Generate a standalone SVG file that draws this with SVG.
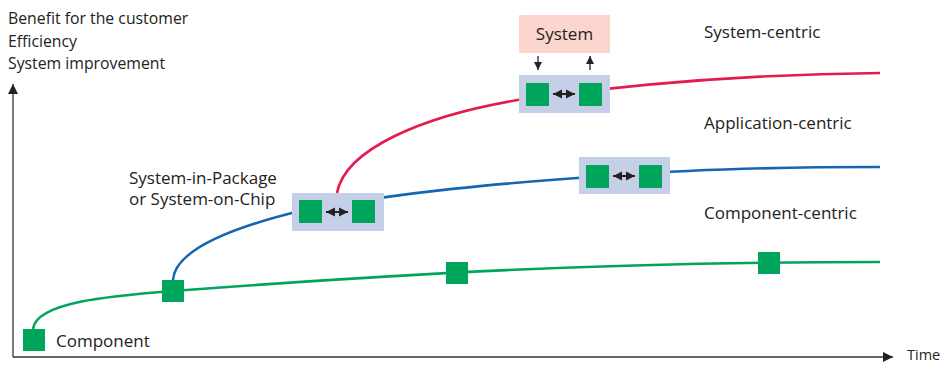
<svg xmlns="http://www.w3.org/2000/svg" width="944" height="365" viewBox="0 0 944 365">
  <style>
    text { font-family: "Open Sans", "Noto Sans", sans-serif; font-size: 15.8px; fill: #222; }
    .lbl { font-size: 17px; }
    .sq { fill: #00a55c; }
    .box { fill: #c5d0e8; }
    .axis { stroke: #333; stroke-width: 1.3; fill: none; }
    .curve { fill: none; stroke-width: 2.6; }
    .g { stroke: #00a55c; }
    .b { stroke: #1565b0; }
    .r { stroke: #e31b4f; }
    .dbl { stroke: #222; stroke-width: 2; fill: none; }
    .sm { stroke: #222; stroke-width: 1.3; fill: none; }
  </style>
  <defs>
    <marker id="axhead" viewBox="0 0 10 10" refX="10" refY="5" markerWidth="10" markerHeight="10" markerUnits="userSpaceOnUse" orient="auto">
      <path d="M0,0 L10,5 L0,10 z" fill="#222"/>
    </marker>
    <marker id="dh" viewBox="0 0 10 10" refX="10" refY="5" markerWidth="9" markerHeight="11" markerUnits="userSpaceOnUse" orient="auto-start-reverse">
      <path d="M0,0 L10,5 L0,10 z" fill="#222"/>
    </marker>
    <marker id="sh" viewBox="0 0 10 10" refX="10" refY="5" markerWidth="8" markerHeight="9" markerUnits="userSpaceOnUse" orient="auto">
      <path d="M0,0 L10,5 L0,10 z" fill="#222"/>
    </marker>
  </defs>

  <!-- axes -->
  <g id="axes">
    <path class="axis" d="M13,357 L13,84" marker-end="url(#axhead)"/>
    <path class="axis" d="M13,357 L893,357" marker-end="url(#axhead)"/>
    <text x="8" y="24">Benefit for the customer</text>
    <text x="8" y="47">Efficiency</text>
    <text x="8" y="69">System improvement</text>
    <text x="907" y="360" style="font-size:14.5px">Time</text>
  </g>

  <!-- development curves -->
  <g id="connectors">
    <path class="curve g" d="M33,329 C36,302 110,296 173,291 C400,274 600,262 880,262"/>
    <path class="curve b" d="M173,280 C175,250 230,228 300,211 C400,192 500,183 620,175 C700,169 800,167 880,167"/>
    <path class="curve r" d="M337,193 C345,150 420,115 530,98 C650,82 760,74 880,73"/>
  </g>

  <g id="component">
    <rect class="sq" x="23" y="329" width="22" height="22"/>
    <text class="lbl" x="56" y="347">Component</text>
  </g>
  <g id="component-2">
    <rect class="sq" x="162" y="280" width="22" height="22"/>
  </g>
  <g id="component-3">
    <rect class="sq" x="446" y="262" width="22" height="22"/>
  </g>
  <g id="component-4">
    <rect class="sq" x="758" y="252" width="22" height="22"/>
  </g>

  <g id="sip">
    <rect class="box" x="292" y="193" width="92" height="38"/>
    <rect class="sq" x="299" y="200" width="23" height="23"/>
    <rect class="sq" x="352" y="200" width="23" height="23"/>
    <path class="dbl" d="M326,212 L348,212" marker-start="url(#dh)" marker-end="url(#dh)"/>
    <text class="lbl" x="129" y="184">System-in-Package</text>
    <text class="lbl" x="129" y="205">or System-on-Chip</text>
  </g>

  <g id="app">
    <rect class="box" x="579" y="157" width="91" height="37"/>
    <rect class="sq" x="586" y="165" width="23" height="23"/>
    <rect class="sq" x="639" y="165" width="23" height="23"/>
    <path class="dbl" d="M613,176 L635,176" marker-start="url(#dh)" marker-end="url(#dh)"/>
  </g>

  <g id="sys">
    <rect class="box" x="519" y="75" width="91" height="38"/>
    <rect class="sq" x="526" y="83" width="23" height="23"/>
    <rect class="sq" x="579" y="83" width="23" height="23"/>
    <path class="dbl" d="M553,94 L575,94" marker-start="url(#dh)" marker-end="url(#dh)"/>
  </g>

  <g id="system">
    <rect x="519" y="15" width="91" height="38" fill="#fcd5cf"/>
    <text class="lbl" x="564.5" y="40" text-anchor="middle">System</text>
    <path class="sm" d="M538,56 L538,70" marker-end="url(#sh)"/>
    <path class="sm" d="M590,70 L590,56" marker-end="url(#sh)"/>
  </g>

  <g id="labels">
    <text class="lbl" x="704" y="38">System-centric</text>
    <text class="lbl" x="704" y="129">Application-centric</text>
    <text class="lbl" x="704" y="219">Component-centric</text>
  </g>
</svg>
